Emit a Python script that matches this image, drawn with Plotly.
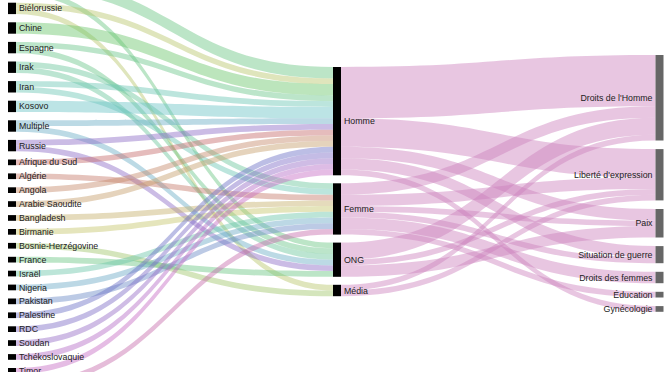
import colorsys
import plotly.graph_objects as go

# ---------------- data ----------------
countries = ["Cuba", "Biélorussie", "Chine", "Espagne", "Irak", "Iran", "Kosovo", "Multiple", "Russie",
             "Afrique du Sud", "Algérie", "Angola", "Arabie Saoudite", "Bangladesh", "Birmanie",
             "Bosnie-Herzégovine", "France", "Israël", "Nigeria", "Pakistan", "Palestine", "RDC",
             "Soudan", "Tchékoslovaquie", "Timor", "Turquie"]
types = ["Homme", "Femme", "ONG", "Média"]
causes = ["Droits de l'Homme", "Liberté d'expression", "Paix", "Situation de guerre",
          "Droits des femmes", "Éducation", "Gynécologie"]

# country -> type
ct_source = ["Cuba", "Cuba", "Biélorussie", "Biélorussie", "Chine", "Espagne", "Espagne",
             "Irak", "Irak", "Iran", "Iran", "Kosovo", "Multiple", "Multiple", "Russie", "Russie",
             "Afrique du Sud", "Algérie", "Angola", "Arabie Saoudite", "Bangladesh", "Birmanie",
             "Bosnie-Herzégovine", "France", "Israël", "Nigeria", "Pakistan", "Palestine", "RDC",
             "Soudan", "Tchékoslovaquie", "Timor", "Turquie"]
ct_target = ["Homme", "ONG", "Homme", "Média", "Homme", "Homme", "ONG",
             "Femme", "ONG", "Homme", "Femme", "Homme", "Homme", "ONG", "Homme", "ONG",
             "Homme", "Femme", "Homme", "Homme", "Femme", "Femme",
             "Média", "ONG", "Femme", "Femme", "Femme", "Homme", "Homme",
             "Homme", "Homme", "Homme", "Femme"]
ct_value = [2, 1, 1, 1, 2, 1, 1,
            1, 1, 1, 1, 2, 1, 1, 1, 1,
            1, 1, 1, 1, 1, 1,
            1, 1, 1, 1, 1, 1, 1,
            1, 1, 1, 1]

# type -> cause
tc_source = ["Homme", "Homme", "Homme", "Homme", "Homme",
             "Femme", "Femme", "Femme", "Femme", "Femme", "Femme",
             "ONG", "ONG", "ONG",
             "Média", "Média"]
tc_target = ["Droits de l'Homme", "Liberté d'expression", "Paix", "Situation de guerre", "Gynécologie",
             "Droits de l'Homme", "Liberté d'expression", "Paix", "Situation de guerre",
             "Droits des femmes", "Éducation",
             "Droits de l'Homme", "Liberté d'expression", "Paix",
             "Droits de l'Homme", "Liberté d'expression"]
tc_value = [9, 5, 2, 2, 1,
            2, 2, 1, 1, 2, 1,
            3, 1, 2,
            1, 1]

# ---------------- styles / layout ----------------
W, H = 672, 372
KY = 5.7              # px per laureate
THICK = 8
col_x = [12, 337, 659.5]          # node centres (px)
col_top = [-22.6, 67, 55]         # top of first node in each column (px)
col_gap = [8.2, 8.0, 8.6]

country_hues = [135, 70, 120, 140, 152, 168, 182, 196, 262,
                0, 10, 20, 33, 45, 60, 85, 135, 160, 200, 220, 238, 252, 268, 288, 302, 318]


def rgba(h, s, l, a):
    r, g, b = colorsys.hls_to_rgb(h / 360.0, l, s)
    return f"rgba({int(r*255)},{int(g*255)},{int(b*255)},{a})"


country_colors = [rgba(h, 0.45, 0.6, 0.45) for h in country_hues]
right_link_color = "rgba(205,128,188,0.45)"

labels = countries + types + causes
idx = {n: i for i, n in enumerate(labels)}

# node values = max(inflow, outflow)
vin = [0.0] * len(labels)
vout = [0.0] * len(labels)
for s, t, v in list(zip(ct_source, ct_target, ct_value)) + list(zip(tc_source, tc_target, tc_value)):
    vout[idx[s]] += v
    vin[idx[t]] += v
val = [max(a, b) for a, b in zip(vin, vout)]

# compute node centres from stacked values
node_x, node_y = [0.0] * len(labels), [0.0] * len(labels)
for c, col in enumerate([countries, types, causes]):
    y = col_top[c]
    for n in col:
        h = val[idx[n]] * KY
        node_x[idx[n]] = col_x[c] / W
        node_y[idx[n]] = (y + h / 2) / H
        y += h + col_gap[c]

total = sum(ct_value)
pad = (H - KY * total) / (len(countries) - 1)

node_colors = ["#000000"] * (len(countries) + len(types)) + ["#666666"] * len(causes)

src, tgt, vals, lcol = [], [], [], []
for s, t, v in zip(ct_source, ct_target, ct_value):
    src.append(idx[s]); tgt.append(idx[t]); vals.append(v)
    lcol.append(country_colors[countries.index(s)])
for s, t, v in zip(tc_source, tc_target, tc_value):
    src.append(idx[s]); tgt.append(idx[t]); vals.append(v)
    lcol.append(right_link_color)

fig = go.Figure(go.Sankey(
    arrangement="fixed",
    domain=dict(x=[0, 1], y=[0, 1]),
    node=dict(label=labels, x=node_x, y=node_y, pad=pad, thickness=THICK,
              color=node_colors, line=dict(width=0)),
    link=dict(source=src, target=tgt, value=vals, color=lcol),
    textfont=dict(family="Liberation Sans, Arial, sans-serif", size=8.8, color="#222222", shadow="none"),
))
fig.update_layout(width=W, height=H, margin=dict(l=0, r=0, t=0, b=0),
                  paper_bgcolor="white", plot_bgcolor="white")
fig.write_html("out.html")
